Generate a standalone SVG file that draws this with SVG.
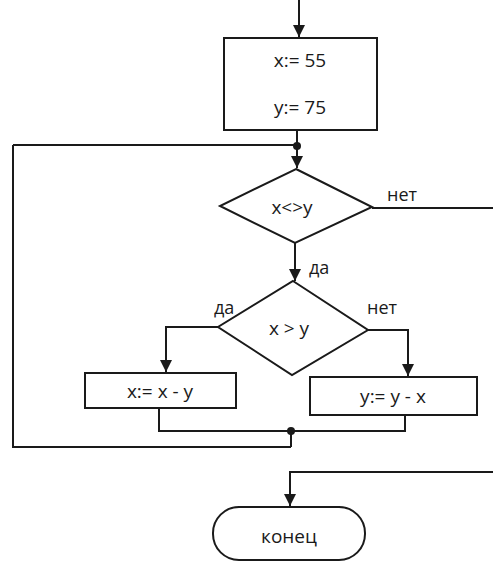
<svg xmlns="http://www.w3.org/2000/svg" width="493" height="562" viewBox="0 0 493 562">
<style>
.s{fill:#fff;stroke:#1a1a1a;stroke-width:2}
.c{fill:none;stroke:#1a1a1a;stroke-width:2}
.t{font-family:"Open Sans","Liberation Sans",sans-serif;font-size:19px;fill:#1a1a1a;text-anchor:middle}
.l{font-family:"Open Sans","Liberation Sans",sans-serif;font-size:18px;fill:#1a1a1a}
</style>
<defs>
<marker id="a" markerWidth="12" markerHeight="12" refX="12" refY="6" orient="auto" markerUnits="userSpaceOnUse">
<path d="M0,0 L12,6 L0,12 Z" fill="#1a1a1a"/>
</marker>
</defs>
<g id="connectors">
<path class="c" d="M299,0 V37" marker-end="url(#a)"/>
<path class="c" d="M297,130 V168" marker-end="url(#a)"/>
<path class="c" d="M13,145 H297"/>
<path class="c" d="M13,145 V447 H291"/>
<path class="c" d="M372,208 H493"/>
<path class="c" d="M295,243 V281" marker-end="url(#a)"/>
<path class="c" d="M218,327 H166 V372" marker-end="url(#a)"/>
<path class="c" d="M368,330 H408 V376" marker-end="url(#a)"/>
<path class="c" d="M159,408 V431 H405 V415"/>
<path class="c" d="M291,431 V447"/>
<path class="c" d="M493,472 H290 V506" marker-end="url(#a)"/>
<circle cx="297" cy="146" r="4" fill="#1a1a1a"/>
<circle cx="291" cy="431" r="4" fill="#1a1a1a"/>
<text class="l" x="387" y="201">нет</text>
<text class="l" x="309" y="274">да</text>
<text class="l" x="214" y="314">да</text>
<text class="l" x="367" y="314">нет</text>
</g>
<g id="init">
<rect class="s" x="224" y="38" width="153" height="92"/>
<text class="t" x="300" y="67">x:= 55</text>
<text class="t" x="300" y="114">y:= 75</text>
</g>
<g id="cond1">
<path class="s" d="M296,169 L372,207 L295,243 L220,206 Z"/>
<text class="t" x="292" y="214">x&lt;&gt;y</text>
</g>
<g id="cond2">
<path class="s" d="M293,281 L368,330 L292,375 L218,327 Z"/>
<text class="t" x="289" y="335">x &gt; y</text>
</g>
<g id="left">
<rect class="s" x="85" y="373" width="151" height="35"/>
<text class="t" x="160" y="398">x:= x - y</text>
</g>
<g id="right">
<rect class="s" x="310" y="377" width="167" height="38"/>
<text class="t" x="393" y="403">y:= y - x</text>
</g>
<g id="end">
<rect class="s" x="213" y="507" width="152" height="53" rx="26"/>
<text class="t" x="289" y="543">конец</text>
</g>
</svg>
